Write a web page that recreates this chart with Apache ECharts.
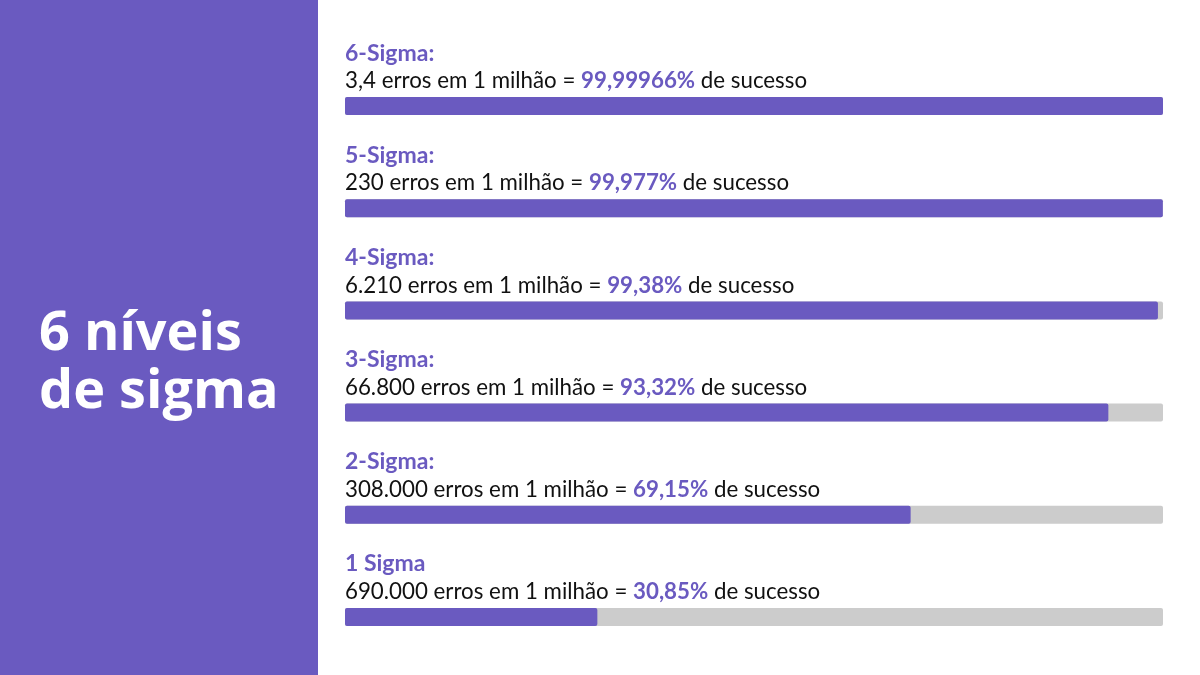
<!DOCTYPE html>
<html><head><meta charset="utf-8">
<script src="https://cdn.jsdelivr.net/npm/echarts@6/dist/echarts.min.js"></script>
<style>html,body{margin:0;padding:0;background:#fff}#c{width:1200px;height:675px}</style>
</head><body><div id="c"></div>
<script>
const levels = ['6-Sigma:', '5-Sigma:', '4-Sigma:', '3-Sigma:', '2-Sigma:', '1 Sigma'];
const errors = ['3,4', '230', '6.210', '66.800', '308.000', '690.000'];
const successText = ['99,99966%', '99,977%', '99,38%', '93,32%', '69,15%', '30,85%'];
const successValues = [99.99966, 99.977, 99.38, 93.32, 69.15, 30.85];
const titleText = '6 níveis\nde sigma';

const PURPLE = '#6a5ac0';
const FONT = 'Lato';
const chart = echarts.init(document.getElementById('c'));
chart.setOption({
  animation: false,
  backgroundColor: '#ffffff',
  textStyle: { fontFamily: FONT },
  graphic: [{ type: 'rect', shape: { x: 0, y: 0, width: 318, height: 675 }, style: { fill: PURPLE }, z: -1 }],
  title: {
    text: titleText, left: 34, top: 301,
    textStyle: { color: '#fff', fontSize: 54, fontWeight: 'bold', lineHeight: 58, fontFamily: 'Open Sans' }
  },
  grid: { left: 345, right: 37, top: 55, height: 613 },
  xAxis: { type: 'value', min: 0, max: 100, show: false },
  yAxis: { type: 'category', inverse: true, data: levels, show: false },
  series: [{
    type: 'bar',
    data: successValues,
    barWidth: 18,
    itemStyle: { color: PURPLE, borderRadius: 2 },
    showBackground: true,
    backgroundStyle: { color: '#cccccc', borderRadius: 2 },
    label: {
      show: true,
      position: [0, -2],
      align: 'left',
      verticalAlign: 'bottom',
      formatter: p => '{h|' + levels[p.dataIndex] + '}\n{t|' + errors[p.dataIndex] + ' erros em 1 milhão = }{b|' + successText[p.dataIndex] + '}{t| de sucesso}',
      rich: {
        h: { fontSize: 23, fontWeight: 'bold', color: PURPLE, lineHeight: 28, fontFamily: FONT },
        t: { fontSize: 22.3, color: '#111', lineHeight: 28, fontFamily: FONT },
        b: { fontSize: 22.3, fontWeight: 'bold', color: PURPLE, lineHeight: 28, fontFamily: FONT }
      }
    }
  }]
});
</script></body></html>
